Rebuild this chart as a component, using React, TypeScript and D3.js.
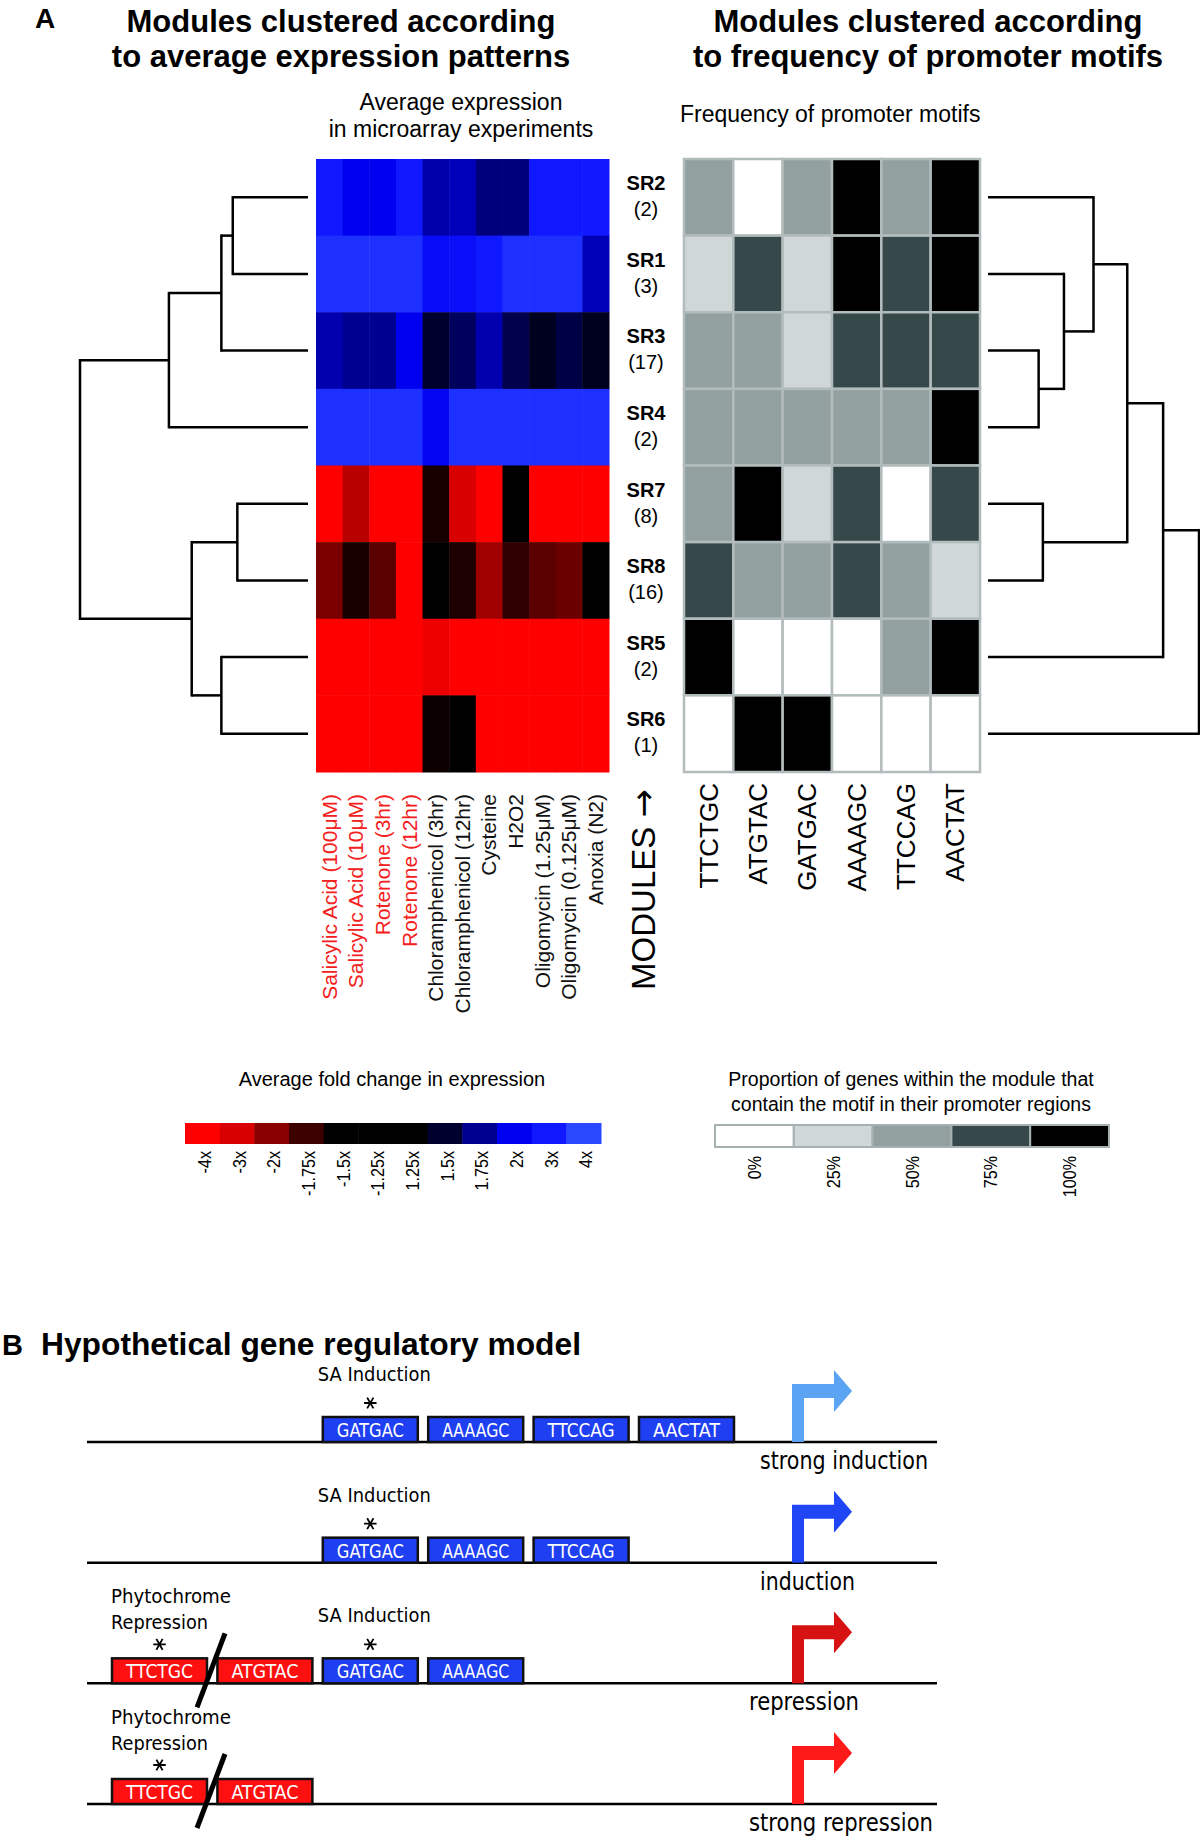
import React, { useEffect, useRef } from 'react';
import * as d3 from 'd3';

// modules in the order shown (top to bottom)
const modules = ["SR2", "SR1", "SR3", "SR4", "SR7", "SR8", "SR5", "SR6"];
const moduleSizes = [2, 3, 17, 2, 8, 16, 2, 1];

const experiments = [
  "Salicylic Acid (100μM)", "Salicylic Acid (10μM)", "Rotenone (3hr)", "Rotenone (12hr)",
  "Chloramphenicol (3hr)", "Chloramphenicol (12hr)", "Cysteine", "H2O2",
  "Oligomycin (1.25μM)", "Oligomycin (0.125μM)", "Anoxia (N2)"
];
const highlightedExperiments = ["Salicylic Acid (100μM)", "Salicylic Acid (10μM)", "Rotenone (3hr)", "Rotenone (12hr)"];

// average fold change per module (rows) and experiment (columns)
const exprSR2 = [3, 2, 2, 3, 1.82, 1.86, 1.7, 1.7, 3, 3, 3];
const exprSR1 = [3.5, 3.5, 3.5, 3.5, 2.5, 2.6, 3, 3.5, 3.5, 3.5, 1.85];
const exprSR3 = [1.83, 1.75, 1.75, 2, 1.5, 1.62, 1.83, 1.58, 1.42, 1.56, 1.42];
const exprSR4 = [3.5, 3.5, 3.5, 3.5, 2.2, 3.5, 3.5, 3.5, 3.5, 3.5, 3.5];
const exprSR7 = [-4, -2.6, -4, -4, -1.6, -3, -4, -1.4, -4, -4, -4];
const exprSR8 = [-1.95, -1.6, -1.85, -4, -1.4, -1.62, -2.3, -1.7, -1.85, -1.9, -1.4];
const exprSR5 = [-4, -4, -4, -4, -3.5, -4, -4, -4, -4, -4, -4];
const exprSR6 = [-4, -4, -4, -4, -1.55, -1.4, -4, -4, -4, -4, -4];
const expression = [exprSR2, exprSR1, exprSR3, exprSR4, exprSR7, exprSR8, exprSR5, exprSR6];

const motifs = ["TTCTGC", "ATGTAC", "GATGAC", "AAAAGC", "TTCCAG", "AACTAT"];
// % of genes with motif
const motifSR2 = [50, 0, 50, 100, 50, 100];
const motifSR1 = [25, 75, 25, 100, 75, 100];
const motifSR3 = [50, 50, 25, 75, 75, 75];
const motifSR4 = [50, 50, 50, 50, 50, 100];
const motifSR7 = [50, 100, 25, 75, 0, 75];
const motifSR8 = [75, 50, 50, 75, 50, 25];
const motifSR5 = [100, 0, 0, 0, 50, 100];
const motifSR6 = [0, 100, 100, 0, 0, 0];
const motifFreq = [motifSR2, motifSR1, motifSR3, motifSR4, motifSR7, motifSR8, motifSR5, motifSR6];

const foldTicks = ["-4x", "-3x", "-2x", "-1.75x", "-1.5x", "-1.25x", "1.25x", "1.5x", "1.75x", "2x", "3x", "4x"];
const foldValues = [-4, -3, -2, -1.75, -1.5, -1.25, 1.25, 1.5, 1.75, 2, 3, 4];
const pctValues = [0, 25, 50, 75, 100];

interface TreeNode { name?: string; h: number; children?: TreeNode[] }
const leaf = (name: string): TreeNode => ({ name, h: 0 });

// clustering by expression (merge heights 0..1)
const exprTree: TreeNode = {
  h: 1, children: [
    { h: 0.61, children: [{ h: 0.38, children: [{ h: 0.33, children: [leaf("SR2"), leaf("SR1")] }, leaf("SR3")] }, leaf("SR4")] },
    { h: 0.51, children: [{ h: 0.31, children: [leaf("SR7"), leaf("SR8")] }, { h: 0.38, children: [leaf("SR5"), leaf("SR6")] }] }
  ]
};
// clustering by motif frequency
const motifTree: TreeNode = {
  h: 1, children: [
    { h: 0.83, children: [
      { h: 0.66, children: [
        { h: 0.5, children: [leaf("SR2"), { h: 0.36, children: [leaf("SR1"), { h: 0.24, children: [leaf("SR3"), leaf("SR4")] }] }] },
        { h: 0.26, children: [leaf("SR7"), leaf("SR8")] }
      ] },
      leaf("SR5")
    ] },
    leaf("SR6")
  ]
};

// part B model
const modelOutcomes = ["strong induction", "induction", "repression", "strong repression"];
const modelSaMotifs = [["GATGAC", "AAAAGC", "TTCCAG", "AACTAT"], ["GATGAC", "AAAAGC", "TTCCAG"], ["GATGAC", "AAAAGC"], []];
const modelPhyMotifs = [[], [], ["TTCTGC", "ATGTAC"], ["TTCTGC", "ATGTAC"]];
const arrowColors = ["#5aa4f3", "#1f45f4", "#d61212", "#ff1a1a"];

const sans = "'Liberation Sans', Arial, Helvetica, sans-serif";
const narrow = "'Liberation Sans Narrow', 'DejaVu Sans Condensed', 'Liberation Sans', sans-serif";

const App: React.FC = () => {
  const ref = useRef<SVGSVGElement>(null);

  useEffect(() => {
    if (!ref.current) return;
    const svg = d3.select(ref.current);
    svg.selectAll("*").remove();
    svg.append("rect").attr("width", 1200).attr("height", 1837).attr("fill", "#fff");

    const txt = (x: number, y: number, s: string, size: number, opts: any = {}) => {
      const t = svg.append("text").attr("x", x).attr("y", y).text(s)
        .attr("font-family", opts.family || sans).attr("font-size", size)
        .attr("font-weight", opts.bold ? "bold" : "normal")
        .attr("text-anchor", opts.anchor || "start").attr("fill", opts.fill || "#000");
      if (opts.len) t.attr("textLength", opts.len).attr("lengthAdjust", "spacingAndGlyphs");
      return t;
    };

    // titles
    txt(35, 28, "A", 28, { bold: true });
    txt(341, 32, "Modules clustered according", 31, { bold: true, anchor: "middle" });
    txt(341, 67, "to average expression patterns", 31, { bold: true, anchor: "middle" });
    txt(928, 32, "Modules clustered according", 31, { bold: true, anchor: "middle" });
    txt(928, 67, "to frequency of promoter motifs", 31, { bold: true, anchor: "middle" });
    txt(461, 110, "Average expression", 23, { anchor: "middle" });
    txt(461, 137, "in microarray experiments", 23, { anchor: "middle" });
    txt(680, 122, "Frequency of promoter motifs", 23);

    const y = d3.scaleBand<string>().domain(modules).range([159, 772]);

    // left heatmap
    const xL = d3.scaleBand<string>().domain(experiments).range([316, 609]);
    const foldColor = d3.scaleLinear<string>().domain(foldValues)
      .range(["#ff0000", "#d80000", "#8a0000", "#3c0000", "#000000", "#000000", "#000000", "#00002e", "#000090", "#0000f0", "#1018ff", "#2a48ff"])
      .clamp(true);
    const cellsL = modules.flatMap((m, r) => experiments.map((e, c) => ({ m, e, v: expression[r][c] })));
    svg.append("g").selectAll("rect").data(cellsL).enter().append("rect")
      .attr("x", d => xL(d.e)!).attr("y", d => y(d.m)!)
      .attr("width", xL.bandwidth() + 0.5).attr("height", y.bandwidth() + 0.5)
      .attr("fill", d => foldColor(d.v));

    // right heatmap
    const xR = d3.scaleBand<string>().domain(motifs).range([684, 980]);
    const grey = d3.scaleLinear<string>().domain(pctValues)
      .range(["#ffffff", "#d0d7d7", "#93a0a0", "#37484b", "#000000"]);
    const cellsR = modules.flatMap((m, r) => motifs.map((e, c) => ({ m, e, v: motifFreq[r][c] })));
    svg.append("g").selectAll("rect").data(cellsR).enter().append("rect")
      .attr("x", d => xR(d.e)!).attr("y", d => y(d.m)!)
      .attr("width", xR.bandwidth()).attr("height", y.bandwidth())
      .attr("fill", d => grey(d.v)).attr("stroke", "#b3bcbc").attr("stroke-width", 2.5);

    // module labels
    modules.forEach((m, i) => {
      const top = y(m)!;
      txt(646, top + 31, m, 20, { bold: true, anchor: "middle" });
      txt(646, top + 57, `(${moduleSizes[i]})`, 20, { anchor: "middle" });
    });

    // column labels
    experiments.forEach(e => {
      const cx = xL(e)! + xL.bandwidth() / 2;
      txt(0, 0, e, 21, { anchor: "end", fill: highlightedExperiments.includes(e) ? "#f42020" : "#111" })
        .attr("dy", "0.35em").attr("transform", `translate(${cx},794) rotate(-90)`);
    });
    const mod = txt(0, 0, "MODULES ", 33, { anchor: "end" }).attr("dy", "0.35em")
      .attr("transform", "translate(643,789) rotate(-90)");
    mod.append("tspan").attr("font-family", "'DejaVu Sans', sans-serif").attr("font-size", 34).text("→");
    motifs.forEach(mo => {
      const cx = xR(mo)! + xR.bandwidth() / 2;
      txt(0, 0, mo, 26, { anchor: "end" }).attr("dy", "0.35em")
        .attr("transform", `translate(${cx},783) rotate(-90)`);
    });

    // dendrograms
    const drawTree = (tree: TreeNode, xs: d3.ScaleLinear<number, number>) => {
      const root = d3.hierarchy<TreeNode>(tree);
      const pos = new Map<any, [number, number]>();
      root.eachAfter(n => {
        const px = xs(n.data.h);
        let py: number;
        if (n.children) {
          const a = pos.get(n.children[0])![1];
          const b = pos.get(n.children[n.children.length - 1])![1];
          py = (a + b) / 2;
        } else py = y(n.data.name!)! + y.bandwidth() / 2;
        pos.set(n, [px, py]);
      });
      const g = svg.append("g").attr("stroke", "#000").attr("stroke-width", 2.5).attr("fill", "none");
      root.each(n => {
        if (!n.children) return;
        const [px] = pos.get(n)!;
        const ys = n.children.map(c => pos.get(c)![1]);
        g.append("line").attr("x1", px).attr("x2", px)
          .attr("y1", d3.min(ys)! - 1.2).attr("y2", d3.max(ys)! + 1.2);
        n.children.forEach(c => {
          const [cx, cy] = pos.get(c)!;
          g.append("line").attr("x1", px).attr("x2", cx).attr("y1", cy).attr("y2", cy);
        });
      });
    };
    drawTree(exprTree, d3.scaleLinear().domain([0, 1]).range([308, 80]));
    drawTree(motifTree, d3.scaleLinear().domain([0, 1]).range([988, 1199]));

    // legends
    txt(392, 1086, "Average fold change in expression", 20, { anchor: "middle" });
    const lx = d3.scaleBand<string>().domain(foldTicks).range([185, 601]);
    svg.append("g").selectAll("rect").data(foldTicks).enter().append("rect")
      .attr("x", d => lx(d)!).attr("y", 1123).attr("width", lx.bandwidth() + 0.5).attr("height", 21)
      .attr("fill", (d, i) => foldColor(foldValues[i]));
    foldTicks.forEach(t => {
      txt(0, 0, t, 19, { anchor: "end" }).attr("dy", "0.35em")
        .attr("transform", `translate(${lx(t)! + lx.bandwidth() / 2 + 2},1151) rotate(-90) scale(0.85,1)`);
    });

    txt(911, 1086, "Proportion of genes within the module that", 19.5, { anchor: "middle" });
    txt(911, 1111, "contain the motif in their promoter regions", 19.5, { anchor: "middle" });
    const px = d3.scaleBand<number>().domain(pctValues).range([715, 1109]);
    svg.append("g").selectAll("rect").data(pctValues).enter().append("rect")
      .attr("x", d => px(d)!).attr("y", 1125).attr("width", px.bandwidth()).attr("height", 22)
      .attr("fill", d => grey(d)).attr("stroke", "#a7b1b1").attr("stroke-width", 2);
    pctValues.forEach(p => {
      txt(0, 0, `${p}%`, 19, { anchor: "end" }).attr("dy", "0.35em")
        .attr("transform", `translate(${px(p)! + px.bandwidth() / 2},1156) rotate(-90) scale(0.85,1)`);
    });

    // part B
    txt(2, 1355, "B", 29, { bold: true });
    txt(41, 1355, "Hypothetical gene regulatory model", 31, { bold: true, len: 540 });

    const rowY = d3.scaleLinear().domain([0, 3]).range([1442, 1804]);
    const slotX = d3.scaleLinear().domain([0, 5]).range([112, 639]);
    const boxW = 95, boxH = 25;
    const arrowX = 792;
    const star = d3.symbol(d3.symbolAsterisk, 110)();

    const drawStar = (cx: number, cy: number) => {
      svg.append("path").attr("d", star).attr("transform", `translate(${cx},${cy}) rotate(90)`)
        .attr("fill", "none").attr("stroke", "#000").attr("stroke-width", 1.8);
    };

    modelOutcomes.forEach((out, r) => {
      const L = rowY(r);
      svg.append("line").attr("x1", 87).attr("x2", 937).attr("y1", L).attr("y2", L)
        .attr("stroke", "#000").attr("stroke-width", 2.5);

      const phy = modelPhyMotifs[r];
      const sa = modelSaMotifs[r];
      const boxes = [
        ...phy.map((m, i) => ({ m, slot: i, fill: "#ff1010" })),
        ...sa.map((m, i) => ({ m, slot: i + 2, fill: "#1f3ff2" }))
      ];
      boxes.forEach(b => {
        const bx = slotX(b.slot);
        svg.append("rect").attr("x", bx).attr("y", L - boxH).attr("width", boxW).attr("height", boxH)
          .attr("fill", b.fill).attr("stroke", "#111").attr("stroke-width", 2.5);
        txt(bx + boxW / 2, L - 5, b.m, 20, { anchor: "middle", fill: "#fff", family: narrow, len: 67 });
      });

      if (sa.length) {
        txt(slotX(2) - 5, L - 61, "SA Induction", 20, { family: narrow, len: 113 });
        drawStar(slotX(2) + boxW / 2, L - 39);
      }
      if (phy.length) {
        txt(slotX(0) - 1, L - 80, "Phytochrome", 20, { family: narrow, len: 120 });
        txt(slotX(0) - 1, L - 54, "Repression", 20, { family: narrow, len: 97 });
        drawStar(slotX(0) + boxW / 2, L - 39);
        svg.append("line").attr("x1", 225).attr("y1", L - 50).attr("x2", 197).attr("y2", L + 24)
          .attr("stroke", "#000").attr("stroke-width", 5);
      }

      // promoter arrow
      const path = d3.path();
      path.moveTo(arrowX, L);
      path.lineTo(arrowX, L - 58);
      path.lineTo(834, L - 58);
      path.lineTo(834, L - 72);
      path.lineTo(852, L - 51);
      path.lineTo(834, L - 30);
      path.lineTo(834, L - 44);
      path.lineTo(arrowX + 12, L - 44);
      path.lineTo(arrowX + 12, L);
      path.closePath();
      svg.append("path").attr("d", path.toString()).attr("fill", arrowColors[r]);

      const lens = [168, 95, 110, 184];
      txt(r < 2 ? 760 : 749, L + 27, out, 24, { family: narrow, len: lens[r] });
    });
  }, []);

  return (
    <svg ref={ref} width={1200} height={1837} style={{ position: 'absolute', left: 0, top: 0 }}></svg>
  );
};

export default App;
